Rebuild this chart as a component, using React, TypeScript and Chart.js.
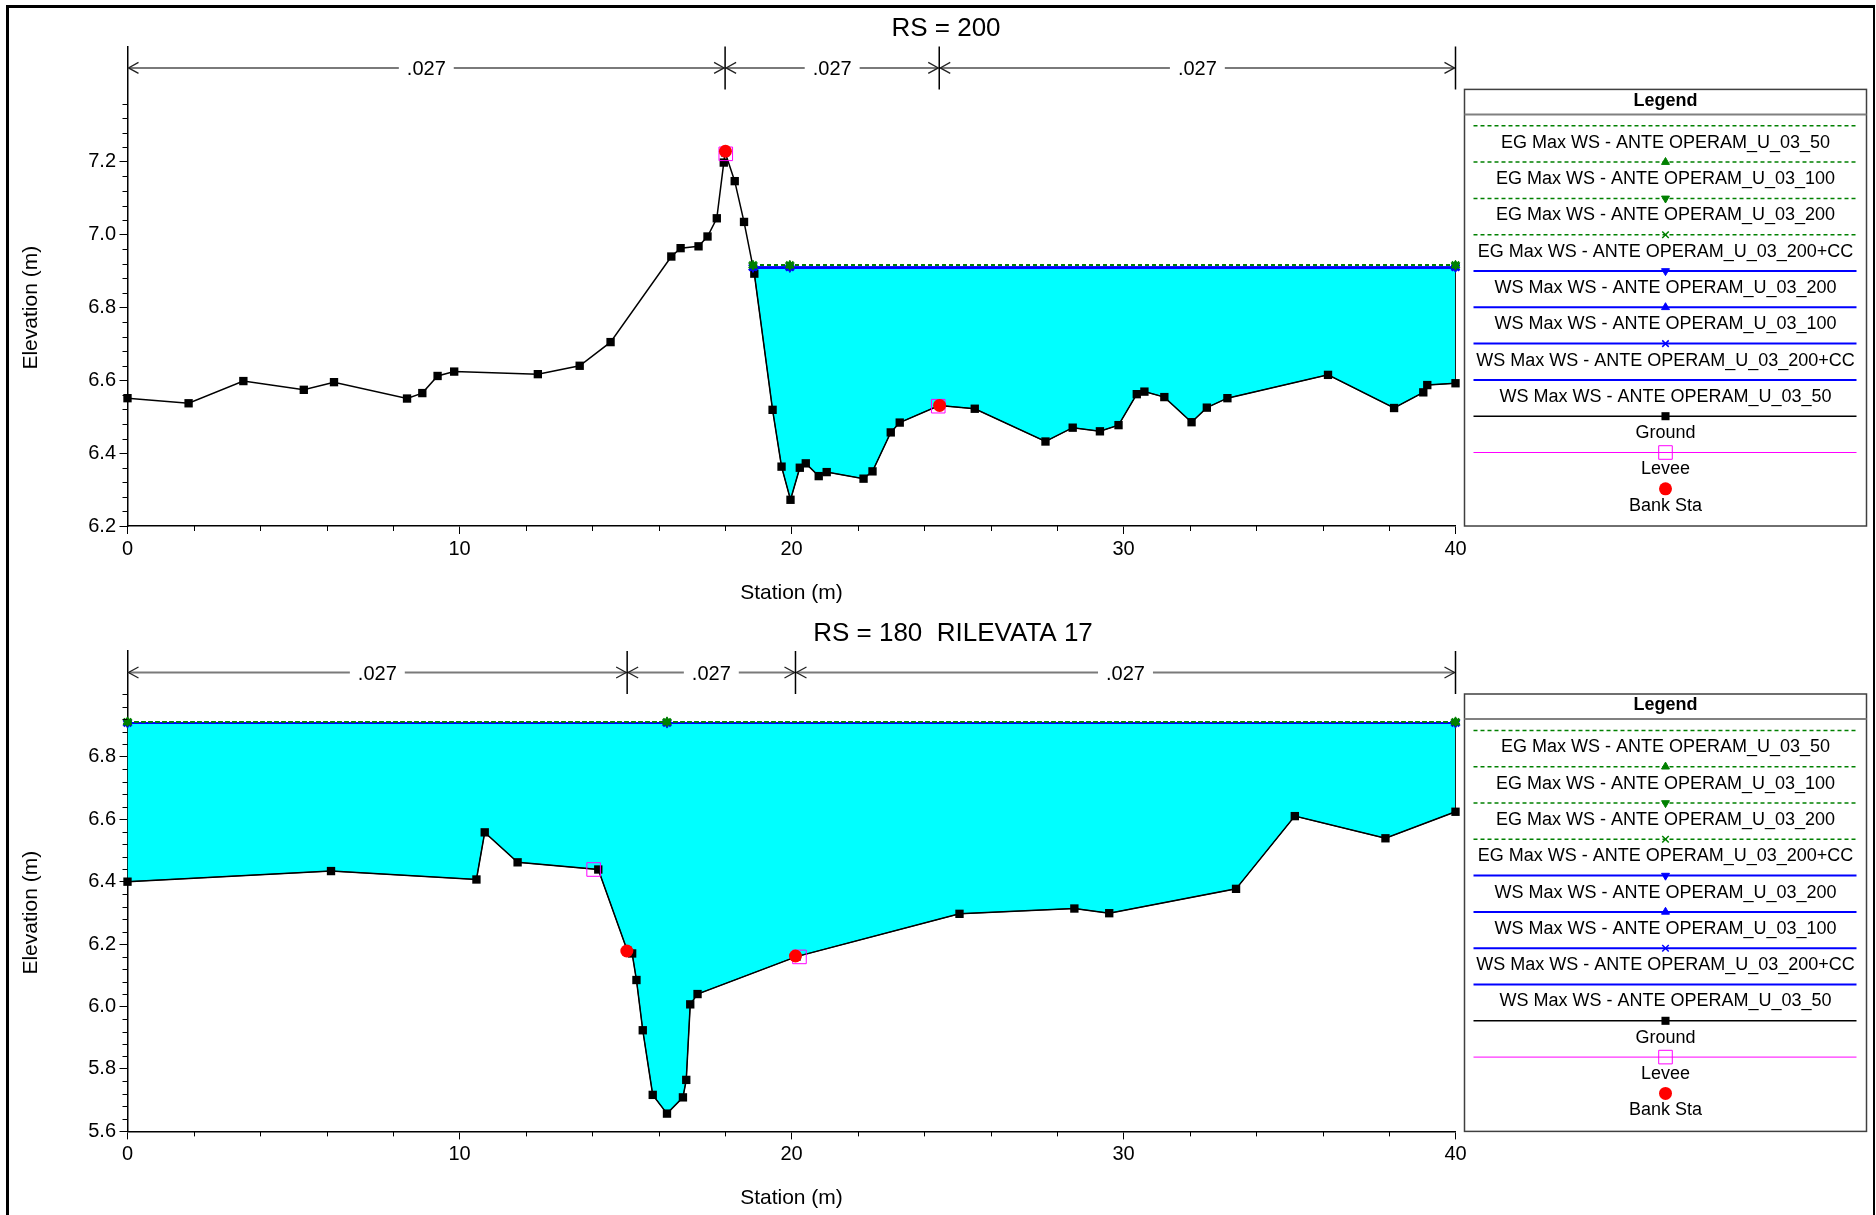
import React, { useEffect, useRef } from 'react';
import { Chart, registerables } from 'chart.js';
import { drawPoint } from 'chart.js/helpers';

Chart.register(...registerables);

const FONT = '"Liberation Sans", Arial, Helvetica, sans-serif';
const W = 1876;

// ---------- shared labels / ticks ----------
const STATION_TICKS = [0, 10, 20, 30, 40];
const STATION_MINOR_STEP = 2;
const ELEV_MINOR_STEP = 0.04;
const STATION_TITLE = 'Station (m)';
const ELEVATION_TITLE = 'Elevation (m)';
const LEGEND_TITLE = 'Legend';
const N_VALUES = ['.027', '.027', '.027'];
const SERIES_NAMES = [
  'EG Max WS - ANTE OPERAM_U_03_50',
  'EG Max WS - ANTE OPERAM_U_03_100',
  'EG Max WS - ANTE OPERAM_U_03_200',
  'EG Max WS - ANTE OPERAM_U_03_200+CC',
  'WS Max WS - ANTE OPERAM_U_03_200',
  'WS Max WS - ANTE OPERAM_U_03_100',
  'WS Max WS - ANTE OPERAM_U_03_200+CC',
  'WS Max WS - ANTE OPERAM_U_03_50',
];
const GROUND_NAME = 'Ground';
const LEVEE_NAME = 'Levee';
const BANK_NAME = 'Bank Sta';

// ---------- RS = 200 ----------
const RS200_TITLE = 'RS = 200';
const RS200_ELEV_TICKS = [6.2, 6.4, 6.6, 6.8, 7.0, 7.2];
const RS200_Y_MIN = 6.2;
const RS200_Y_MAX = 7.517;
const RS200_MINOR_TOP = 7.36;
const RS200_GROUND_X = [0, 1.84, 3.49, 5.31, 6.22, 8.42, 8.88, 9.34, 9.84, 12.36, 13.62, 14.55, 16.38, 16.66, 17.2, 17.47, 17.75, 17.96, 18.0, 18.29, 18.57, 18.88, 19.43, 19.7, 19.97, 20.25, 20.43, 20.82, 21.06, 22.17, 22.44, 22.99, 23.26, 24.45, 25.52, 27.65, 28.47, 29.29, 29.85, 30.4, 30.63, 31.23, 32.05, 32.51, 33.13, 36.16, 38.15, 39.03, 39.15, 40.0];
const RS200_GROUND_Y = [6.551, 6.537, 6.598, 6.574, 6.595, 6.55, 6.565, 6.612, 6.624, 6.617, 6.64, 6.705, 6.94, 6.963, 6.968, 6.995, 7.045, 7.198, 7.226, 7.147, 7.035, 6.893, 6.519, 6.363, 6.272, 6.36, 6.372, 6.337, 6.348, 6.33, 6.35, 6.457, 6.484, 6.531, 6.522, 6.432, 6.47, 6.46, 6.477, 6.562, 6.569, 6.554, 6.485, 6.525, 6.551, 6.615, 6.524, 6.567, 6.587, 6.592];
const RS200_WS_STATIONS = [18.84, 19.95, 40];
const RS200_EG_ELEV = [6.917, 6.916, 6.916, 6.917]; // EG 50, 100, 200, 200+CC
const RS200_WS_ELEV = [6.91, 6.91, 6.91, 6.909]; // WS 200, 100, 200+CC, 50
const RS200_LEVEE_X = [18.02, 24.42];
const RS200_LEVEE_Y = [7.222, 6.529];
const RS200_BANK_X = [18.01, 24.46];
const RS200_BANK_Y = [7.229, 6.531];
const RS200_N_BOUNDS = [0, 18.0, 24.45, 40];

// ---------- RS = 180 ----------
const RS180_TITLE = 'RS = 180  RILEVATA 17';
const RS180_ELEV_TICKS = [5.6, 5.8, 6.0, 6.2, 6.4, 6.6, 6.8];
const RS180_Y_MIN = 5.6;
const RS180_Y_MAX = 7.139;
const RS180_MINOR_TOP = 7.0;
const RS180_GROUND_X = [0, 6.13, 10.51, 10.76, 11.75, 14.18, 15.05, 15.2, 15.33, 15.52, 15.82, 16.25, 16.73, 16.83, 16.95, 17.17, 20.15, 25.06, 28.52, 29.57, 33.39, 35.16, 37.89, 40.0];
const RS180_GROUND_Y = [6.4, 6.434, 6.407, 6.558, 6.462, 6.439, 6.18, 6.17, 6.085, 5.924, 5.717, 5.657, 5.709, 5.765, 6.007, 6.04, 6.16, 6.297, 6.314, 6.299, 6.377, 6.61, 6.539, 6.624];
const RS180_WS_STATIONS = [0, 16.25, 40];
const RS180_EG_ELEV = [6.912, 6.912, 6.912, 6.912];
const RS180_WS_ELEV = [6.908, 6.908, 6.908, 6.908];
const RS180_LEVEE_X = [14.04, 20.24];
const RS180_LEVEE_Y = [6.439, 6.159];
const RS180_BANK_X = [15.04, 20.12];
const RS180_BANK_Y = [6.178, 6.162];
const RS180_N_BOUNDS = [0, 15.05, 20.12, 40];

// ---------- styles ----------
const EG_COLOR = '#008000';
const WS_COLOR = '#0000FF';
const LINE_STYLES = [
  { color: EG_COLOR, dash: [4, 3], width: 1.5, marker: '', rot: 0 },
  { color: EG_COLOR, dash: [4, 3], width: 1.5, marker: 'triangle', rot: 0 },
  { color: EG_COLOR, dash: [4, 3], width: 1.5, marker: 'triangle', rot: 180 },
  { color: EG_COLOR, dash: [4, 3], width: 1.5, marker: 'crossRot', rot: 0 },
  { color: WS_COLOR, dash: [], width: 2, marker: 'triangle', rot: 180 },
  { color: WS_COLOR, dash: [], width: 2, marker: 'triangle', rot: 0 },
  { color: WS_COLOR, dash: [], width: 2, marker: 'crossRot', rot: 0 },
  { color: WS_COLOR, dash: [], width: 2, marker: '', rot: 0 },
];

const AREA_LEFT = 127.5;
const AREA_RIGHT = 1455.5;

const PANELS = [
  {
    title: RS200_TITLE, titleX: 946, offsetY: 0, height: 605, top: 46.4, bottom: 526,
    ticks: RS200_ELEV_TICKS, yMin: RS200_Y_MIN, yMax: RS200_Y_MAX, minorTop: RS200_MINOR_TOP,
    gx: RS200_GROUND_X, gy: RS200_GROUND_Y, wsx: RS200_WS_STATIONS, eg: RS200_EG_ELEV, ws: RS200_WS_ELEV,
    lx: RS200_LEVEE_X, ly: RS200_LEVEE_Y, bx: RS200_BANK_X, by: RS200_BANK_Y, nb: RS200_N_BOUNDS,
  },
  {
    title: RS180_TITLE, titleX: 953, offsetY: 605, height: 610, top: 46, bottom: 526.4,
    ticks: RS180_ELEV_TICKS, yMin: RS180_Y_MIN, yMax: RS180_Y_MAX, minorTop: RS180_MINOR_TOP,
    gx: RS180_GROUND_X, gy: RS180_GROUND_Y, wsx: RS180_WS_STATIONS, eg: RS180_EG_ELEV, ws: RS180_WS_ELEV,
    lx: RS180_LEVEE_X, ly: RS180_LEVEE_Y, bx: RS180_BANK_X, by: RS180_BANK_Y, nb: RS180_N_BOUNDS,
  },
];

function makeDecor(p: any) {
  return {
    id: 'decor',
    afterDraw(chart: any) {
      const { ctx, chartArea: ca } = chart;
      const xs = chart.scales.x;
      const ys = chart.scales.y;
      ctx.save();

      // minor ticks
      ctx.strokeStyle = '#000';
      ctx.lineWidth = 1;
      ctx.beginPath();
      for (let v = STATION_MINOR_STEP; v < 40; v += STATION_MINOR_STEP) {
        if (STATION_TICKS.includes(v)) continue;
        const px = Math.round(xs.getPixelForValue(v)) + 0.5;
        ctx.moveTo(px, ca.bottom);
        ctx.lineTo(px, ca.bottom + 5);
      }
      const n = Math.round((p.minorTop - p.yMin) / ELEV_MINOR_STEP);
      for (let k = 1; k <= n; k++) {
        const v = p.yMin + k * ELEV_MINOR_STEP;
        if (p.ticks.some((m: number) => Math.abs(m - v) < 1e-6)) continue;
        const py = Math.round(ys.getPixelForValue(v)) + 0.5;
        ctx.moveTo(ca.left - 5, py);
        ctx.lineTo(ca.left, py);
      }
      ctx.stroke();

      // n-value bars
      const yA = ca.top + 21.5;
      const b = p.nb;
      ctx.font = `20px ${FONT}`;
      ctx.textAlign = 'center';
      ctx.textBaseline = 'middle';
      for (let i = 0; i < b.length - 1; i++) {
        const x0 = xs.getPixelForValue(b[i]);
        const x1 = xs.getPixelForValue(b[i + 1]);
        const cx = (x0 + x1) / 2;
        const tw = ctx.measureText(N_VALUES[i]).width;
        ctx.strokeStyle = '#7a7a7a';
        ctx.lineWidth = 2;
        ctx.beginPath();
        ctx.moveTo(x0 + 1, yA);
        ctx.lineTo(cx - tw / 2 - 8, yA);
        ctx.moveTo(cx + tw / 2 + 8, yA);
        ctx.lineTo(x1 - 1, yA);
        ctx.stroke();
        ctx.strokeStyle = '#222';
        ctx.lineWidth = 1.3;
        ctx.beginPath();
        ctx.moveTo(x0 + 11, yA - 5.5);
        ctx.lineTo(x0 + 1, yA);
        ctx.lineTo(x0 + 11, yA + 5.5);
        ctx.moveTo(x1 - 11, yA - 5.5);
        ctx.lineTo(x1 - 1, yA);
        ctx.lineTo(x1 - 11, yA + 5.5);
        ctx.stroke();
        ctx.fillStyle = '#000';
        ctx.fillText(N_VALUES[i], cx, yA + 2);
      }
      ctx.strokeStyle = '#000';
      ctx.lineWidth = 1.5;
      ctx.beginPath();
      for (let i = 1; i < b.length; i++) {
        const x = xs.getPixelForValue(b[i]);
        ctx.moveTo(x, ca.top);
        ctx.lineTo(x, ca.top + 43);
      }
      ctx.stroke();

      // titles
      ctx.fillStyle = '#000';
      ctx.font = `26px ${FONT}`;
      ctx.fillText(p.title, p.titleX, 29);
      ctx.font = `21px ${FONT}`;
      ctx.fillText(STATION_TITLE, (ca.left + ca.right) / 2, ca.bottom + 67);
      ctx.save();
      ctx.translate(31.5, (ca.top + 43 + ca.bottom) / 2);
      ctx.rotate(-Math.PI / 2);
      ctx.fillText(ELEVATION_TITLE, 0, 0);
      ctx.restore();

      // legend
      const L = ca.right + 9;
      const T = ca.top + 43;
      const R = 1866.5;
      const B = ca.bottom;
      const cxL = (L + R) / 2;
      ctx.fillStyle = '#fff';
      ctx.fillRect(L, T, R - L, B - T);
      ctx.strokeStyle = '#404040';
      ctx.lineWidth = 1.5;
      ctx.strokeRect(L, T, R - L, B - T);
      ctx.strokeStyle = '#808080';
      ctx.lineWidth = 2;
      ctx.beginPath();
      ctx.moveTo(L, T + 25);
      ctx.lineTo(R, T + 25);
      ctx.stroke();
      ctx.fillStyle = '#000';
      ctx.font = `bold 18px ${FONT}`;
      ctx.fillText(LEGEND_TITLE, cxL, T + 11.5);

      const items = chart.data.datasets.filter((d: any) => d.inLegend !== false);
      items.forEach((d: any, i: number) => {
        const ly = T + 36.4 + i * 36.3;
        if (d.legendLine !== false) {
          ctx.save();
          ctx.strokeStyle = d.borderColor;
          ctx.lineWidth = d.borderWidth;
          ctx.setLineDash(d.borderDash || []);
          ctx.beginPath();
          ctx.moveTo(L + 9, ly);
          ctx.lineTo(R - 10, ly);
          ctx.stroke();
          ctx.restore();
        }
        if (d.pointRadius > 0) {
          ctx.save();
          ctx.fillStyle = d.pointBackgroundColor;
          ctx.strokeStyle = d.pointBorderColor;
          ctx.lineWidth = d.pointBorderWidth || 1;
          drawPoint(ctx, {
            pointStyle: d.pointStyle,
            rotation: d.pointRotation || 0,
            radius: d.legendRadius ?? d.pointRadius,
            borderWidth: d.pointBorderWidth,
          }, cxL, ly);
          ctx.restore();
        }
        ctx.fillStyle = '#000';
        ctx.font = `18px ${FONT}`;
        ctx.textAlign = 'center';
        ctx.textBaseline = 'middle';
        ctx.fillText(d.label, cxL, ly + 17);
      });

      ctx.restore();
    },
  };
}

function buildConfig(p: any) {
  const ground = p.gx.map((x: number, i: number) => ({ x, y: p.gy[i] }));
  const wsMax = Math.max(...p.ws);
  const wsL = p.wsx[0];
  const wsR = p.wsx[p.wsx.length - 1];
  const water = [
    ...p.wsx.map((x: number) => ({ x, y: wsMax })),
    ...ground.filter((g: any) => g.x >= wsL && g.x <= wsR).reverse(),
  ];

  const datasets: any[] = [
    {
      label: 'water', data: water, inLegend: false, fill: 'shape', backgroundColor: '#00FFFF',
      borderColor: '#202020', borderWidth: 1, pointRadius: 0, order: 20, clip: false, tension: 0,
    },
    ...SERIES_NAMES.map((name, i) => {
      const st = LINE_STYLES[i];
      const elev = i < 4 ? p.eg[i] : p.ws[i - 4];
      return {
        label: name,
        data: p.wsx.map((x: number) => ({ x, y: elev })),
        borderColor: st.color, borderWidth: st.width, borderDash: st.dash,
        pointStyle: st.marker || 'circle', pointRadius: st.marker ? 5 : 0, legendRadius: st.marker ? 4.6 : 0,
        pointRotation: st.rot, pointBackgroundColor: st.color, pointBorderColor: st.color,
        pointBorderWidth: st.marker === 'crossRot' ? 1.5 : 1,
        fill: false, order: 5, clip: false, tension: 0,
      };
    }),
    {
      label: GROUND_NAME, data: ground, borderColor: '#000', borderWidth: 1.5,
      pointStyle: 'rect', pointRadius: 5.9, legendRadius: 5.7, pointBackgroundColor: '#000', pointBorderColor: '#000', pointBorderWidth: 0,
      fill: false, order: 10, clip: false, tension: 0,
    },
    {
      label: LEVEE_NAME, data: p.lx.map((x: number, i: number) => ({ x, y: p.ly[i] })), showLine: false,
      borderColor: '#FF00FF', borderWidth: 1, pointStyle: 'rect', pointRadius: 9.6,
      pointBackgroundColor: 'rgba(0,0,0,0)', pointBorderColor: '#FF00FF', pointBorderWidth: 1,
      fill: false, order: 2, clip: false,
    },
    {
      label: BANK_NAME, data: p.bx.map((x: number, i: number) => ({ x, y: p.by[i] })), showLine: false,
      legendLine: false, borderColor: '#FF0000', pointStyle: 'circle', pointRadius: 6.5,
      pointBackgroundColor: '#FF0000', pointBorderColor: '#FF0000', pointBorderWidth: 0,
      fill: false, order: 1, clip: false,
    },
  ];

  const tickFont = { family: FONT, size: 20 };
  return {
    type: 'line',
    data: { datasets },
    plugins: [makeDecor(p)],
    options: {
      responsive: false,
      animation: false,
      devicePixelRatio: 1,
      events: [],
      layout: { padding: { left: 0, top: p.top, right: W - AREA_RIGHT, bottom: 0 } },
      plugins: { legend: { display: false }, tooltip: { enabled: false }, title: { display: false } },
      scales: {
        x: {
          type: 'linear', min: 0, max: 40,
          afterBuildTicks: (s: any) => { s.ticks = STATION_TICKS.map((v) => ({ value: v })); },
          afterFit: (s: any) => { s.height = p.height - p.bottom; },
          ticks: { autoSkip: false, maxRotation: 0, font: tickFont, color: '#000', padding: 3, callback: (v: any) => String(v) },
          grid: { drawOnChartArea: false, drawTicks: true, tickLength: 8, tickColor: '#000', tickWidth: 1 },
          border: { display: true, color: '#000', width: 1.5 },
        },
        y: {
          type: 'linear', min: p.yMin, max: p.yMax,
          afterBuildTicks: (s: any) => { s.ticks = p.ticks.map((v: number) => ({ value: v })); },
          afterFit: (s: any) => { s.width = AREA_LEFT; },
          ticks: { autoSkip: false, font: tickFont, color: '#000', padding: 3.5, callback: (v: any) => Number(v).toFixed(1) },
          grid: { drawOnChartArea: false, drawTicks: true, tickLength: 8, tickColor: '#000', tickWidth: 1 },
          border: { display: true, color: '#000', width: 1.5 },
        },
      },
    },
  };
}

function CrossSection({ panel }: { panel: any }) {
  const ref = useRef<HTMLCanvasElement>(null);
  useEffect(() => {
    const chart = new Chart(ref.current as HTMLCanvasElement, buildConfig(panel) as any);
    return () => chart.destroy();
  }, [panel]);
  return (
    <canvas
      ref={ref}
      width={W}
      height={panel.height}
      style={{ position: 'absolute', left: 0, top: panel.offsetY, width: W, height: panel.height, display: 'block' }}
    />
  );
}

export default function App() {
  return (
    <div style={{ position: 'absolute', left: 0, top: 0, width: W, height: 1215, overflow: 'hidden', background: '#fff' }}>
      {PANELS.map((p, i) => (
        <CrossSection key={i} panel={p} />
      ))}
      <div
        style={{
          position: 'absolute', left: 6, top: 5, width: 1869, height: 1400, boxSizing: 'border-box',
          borderLeft: '3px solid #000', borderTop: '3px solid #000', borderRight: '2.5px solid #000',
          pointerEvents: 'none',
        }}
      />
    </div>
  );
}
